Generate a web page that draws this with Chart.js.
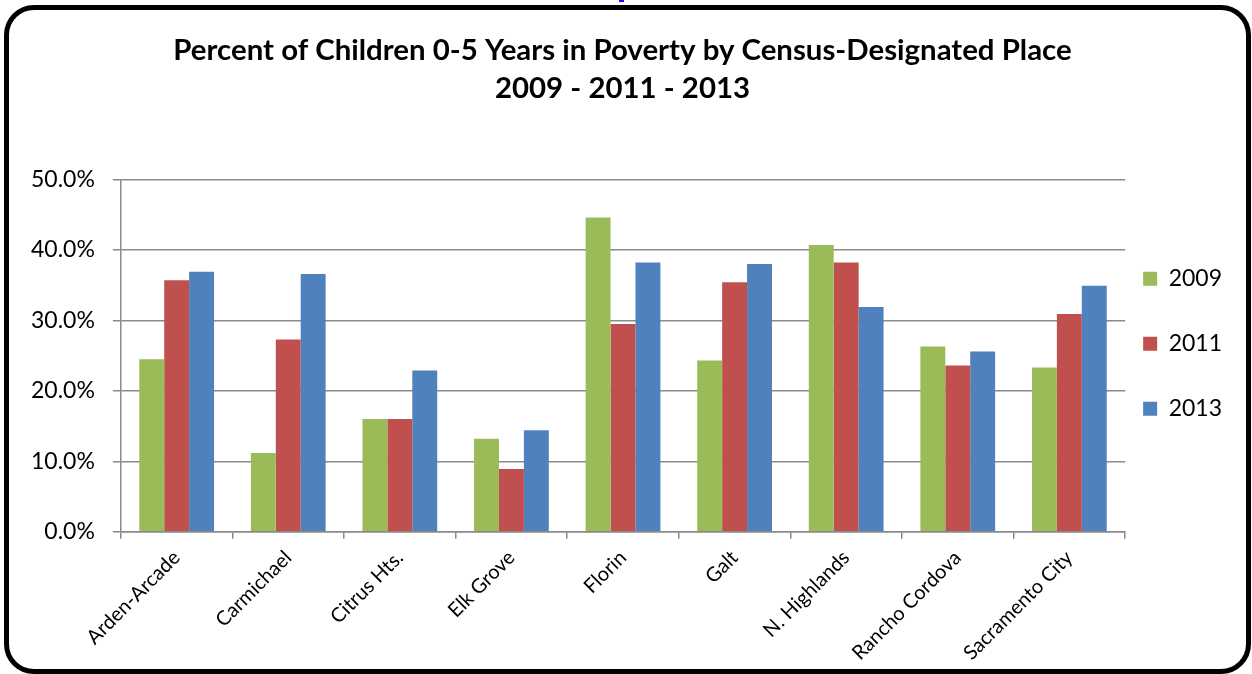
<!DOCTYPE html>
<html>
<head>
<meta charset="utf-8">
<script src="https://cdn.jsdelivr.net/npm/chart.js@4/dist/chart.umd.min.js"></script>
<style>
  html, body { margin: 0; padding: 0; background: #fff; }
  #wrap { position: relative; width: 1252px; height: 674px; overflow: hidden; }
  #c { position: absolute; left: 0; top: 0; }
  #frame {
    position: absolute; left: 4px; top: 5px; width: 1237px; height: 659px;
    border: 5px solid #000; border-radius: 30px; pointer-events: none;
  }
  #linkmark { position: absolute; left: 619px; top: 0; width: 5px; height: 2px; background: #1010ff; }
</style>
</head>
<body>
<div id="wrap">
  <canvas id="c" width="1252" height="674"></canvas>
  <div id="frame"></div>
  <div id="linkmark"></div>
</div>
<script>
// Census-designated places
const places = ['Arden-Arcade', 'Carmichael', 'Citrus Hts.', 'Elk Grove', 'Florin',
                'Galt', 'N. Highlands', 'Rancho Cordova', 'Sacramento City'];

// Percent of children aged 0-5 in poverty, by year
const pct2009 = [24.5, 11.2, 16.0, 13.2, 44.6, 24.3, 40.7, 26.3, 23.3];
const pct2011 = [35.7, 27.3, 16.0,  8.9, 29.5, 35.4, 38.2, 23.6, 30.9];
const pct2013 = [36.9, 36.6, 22.9, 14.4, 38.2, 38.0, 31.9, 25.6, 34.9];

const seriesNames = ['2009', '2011', '2013'];
const seriesColors = ['#9BBB59', '#C0504D', '#4F81BD'];

const yTicks = [0, 10, 20, 30, 40, 50];

const titleLines = ['Percent of Children 0-5 Years in Poverty by Census-Designated Place',
                    '2009 - 2011 - 2013'];

const gridGray = '#8a8a8a';

new Chart(document.getElementById('c'), {
  type: 'bar',
  data: {
    labels: places,
    datasets: [pct2009, pct2011, pct2013].map((vals, i) => ({
      label: seriesNames[i],
      data: vals,
      backgroundColor: seriesColors[i],
      borderWidth: 0,
      barPercentage: 1.0,
      categoryPercentage: 0.67
    }))
  },
  options: {
    responsive: false,
    devicePixelRatio: 1,
    animation: false,
    layout: { padding: { left: 13, right: 20, top: 0, bottom: 2 } },
    scales: {
      x: {
        grid: { offset: true, drawOnChartArea: false, color: gridGray, lineWidth: 1.5, tickLength: 7 },
        border: { color: gridGray, width: 1.5 },
        ticks: {
          color: '#000', font: { family: 'Lato', size: 20 },
          minRotation: 45, maxRotation: 45, padding: 7, autoSkip: false
        }
      },
      y: {
        min: 0, max: 50,
        afterBuildTicks: axis => { axis.ticks = yTicks.map(v => ({ value: v })); },
        grid: { color: gridGray, lineWidth: 1.5, tickLength: 8 },
        border: { color: gridGray, width: 1.5 },
        ticks: {
          color: '#000', font: { family: 'Lato', size: 23 }, padding: 18,
          callback: v => v.toFixed(1) + '%'
        }
      }
    },
    plugins: {
      tooltip: { enabled: false },
      title: {
        display: true,
        text: titleLines,
        color: '#000',
        font: { family: 'Lato', size: 29.4, weight: 'bold', lineHeight: 1.3 },
        padding: { top: 31, bottom: 72 }
      },
      legend: {
        position: 'right',
        align: 'center',
        fullSize: false,
        labels: {
          color: '#000',
          boxWidth: 14, boxHeight: 14, padding: 18,
          font: { family: 'Lato', size: 23, lineHeight: '47px' },
          generateLabels: chart =>
            Chart.defaults.plugins.legend.labels.generateLabels(chart)
              .map(item => Object.assign(item, { text: [item.text], lineWidth: 0 }))
        }
      }
    }
  }
});
</script>
</body>
</html>
